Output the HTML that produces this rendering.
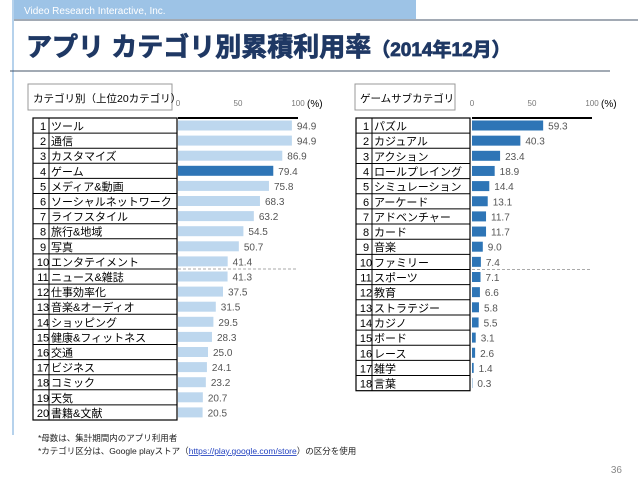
<!DOCTYPE html>
<html><head><meta charset="utf-8"><style>
body{margin:0;width:638px;height:479px;background:#fff;overflow:hidden;font-family:"Liberation Sans","Noto Sans CJK JP",sans-serif}
svg text{font-family:"Liberation Sans","Noto Sans CJK JP",sans-serif}
</style></head><body>
<svg id="s" width="638" height="479" xmlns="http://www.w3.org/2000/svg">
<rect x="14" y="0" width="402" height="19" fill="#9dc3e6"/>
<text x="24" y="14" font-size="10" fill="#fff">Video Research Interactive, Inc.</text>
<line x1="14" y1="20" x2="638" y2="20" stroke="#44546a" stroke-width="1"/>
<line x1="13" y1="0" x2="13" y2="435" stroke="#9dc3e6" stroke-width="1.5"/>
<text x="26" y="56" font-size="26" font-weight="bold" fill="#1f3864" stroke="#1f3864" stroke-width="0.8">アプリ カテゴリ別累積利用率<tspan font-size="19">（2014年12月）</tspan></text>
<line x1="10" y1="71" x2="610" y2="71" stroke="#44546a" stroke-width="1"/>
<g id="c1"></g><g id="c2"></g>
<text x="38" y="441" font-size="8.5" font-family="Liberation Serif,Noto Serif CJK SC,serif" fill="#222">*母数は、集計期間内のアプリ利用者</text>
<text x="38" y="454" font-size="8.5" font-family="Liberation Serif,Noto Serif CJK SC,serif" fill="#222">*カテゴリ区分は、Google playストア（<tspan fill="#1f3fbf" text-decoration="underline">https://play.google.com/store</tspan>）の区分を使用</text>
<text x="622" y="473" font-size="10" fill="#888" text-anchor="end">36</text>
</svg>
<script>
const cats1=["ツール","通信","カスタマイズ","ゲーム","メディア&動画","ソーシャルネットワーク","ライフスタイル","旅行&地域","写真","エンタテイメント","ニュース&雑誌","仕事効率化","音楽&オーディオ","ショッピング","健康&フィットネス","交通","ビジネス","コミック","天気","書籍&文献"];
const vals1=[94.9,94.9,86.9,79.4,75.8,68.3,63.2,54.5,50.7,41.4,41.3,37.5,31.5,29.5,28.3,25.0,24.1,23.2,20.7,20.5];
const cats2=["パズル","カジュアル","アクション","ロールプレイング","シミュレーション","アーケード","アドベンチャー","カード","音楽","ファミリー","スポーツ","教育","ストラテジー","カジノ","ボード","レース","雑学","言葉"];
const vals2=[59.3,40.3,23.4,18.9,14.4,13.1,11.7,11.7,9.0,7.4,7.1,6.6,5.8,5.5,3.1,2.6,1.4,0.3];
const ticks=[0,50,100];
const NS="http://www.w3.org/2000/svg";
function mk(p,t,a){const e=document.createElementNS(NS,t);for(const k in a)e.setAttribute(k,a[k]);p.appendChild(e);return e;}
function chart(g,cats,vals,o){
  const x=v=>o.x0+v*o.sc;
  const y=i=>o.y0+i*o.rh;
  const bx=mk(g,'rect',{x:o.bx,y:84,width:o.bw,height:26,fill:'#fff',stroke:'#999'});
  
  
  const tt=mk(g,'text',{x:o.bx+5,y:102,'font-size':10.5,fill:'#000'});tt.textContent=o.title;
  
  
  ticks.forEach(t=>{const e=mk(g,'text',{x:x(t),y:106,'font-size':8,fill:'#777','text-anchor':'middle'});e.textContent=t;
    
    });
  const u=mk(g,'text',{x:x(100)+9,y:107,'font-size':10,fill:'#000'});u.textContent='(%)';
  
  
  const ax=mk(g,'line',{x1:x(0),x2:x(100),y1:o.y0,y2:o.y0,stroke:'#000','stroke-width':2});
  
  
  mk(g,'line',{x1:x(0),x2:x(100),y1:y(10),y2:y(10),stroke:'#aaa','stroke-dasharray':'3,2'});
  mk(g,'rect',{x:o.tx,y:o.y0,width:o.tw,height:cats.length*o.rh,fill:'#fff',stroke:'#000','stroke-width':1.2});
  cats.forEach((c,i)=>{
    const r=mk(g,'line',{x1:o.tx,x2:o.tx+o.tw,y1:y(i),y2:y(i),stroke:'#000','stroke-width':1});
    
    
    mk(g,'line',{x1:o.tx+16,x2:o.tx+16,y1:y(i),y2:y(i+1),stroke:'#000'});
    const n=mk(g,'text',{x:o.tx+10,y:y(i)+12,'font-size':11,'text-anchor':'middle'});n.textContent=i+1;
    
    
    const l=mk(g,'text',{x:o.tx+18,y:y(i)+12,'font-size':11});l.textContent=c;
    
    
    const b=mk(g,'rect',{x:x(0),y:y(i)+2.5,width:vals[i]*o.sc,height:10,fill:o.col(i)});
    
    
    const v=mk(g,'text',{x:x(vals[i])+5,y:y(i)+11.5,'font-size':10,fill:'#555'});v.textContent=vals[i].toFixed(1);
    
    
  });
}
chart(document.getElementById('c1'),cats1,vals1,{x0:178,sc:1.2,y0:118,rh:15.1,tx:33,tw:144,bx:28,bw:144,title:'カテゴリ別（上位20カテゴリ）',col:i=>i==3?'#2e75b6':'#bdd7ee'});
chart(document.getElementById('c2'),cats2,vals2,{x0:472,sc:1.2,y0:118,rh:15.15,tx:356,tw:114,bx:355,bw:100,title:'ゲームサブカテゴリ',col:i=>'#2e75b6'});
</script>
</body></html>
